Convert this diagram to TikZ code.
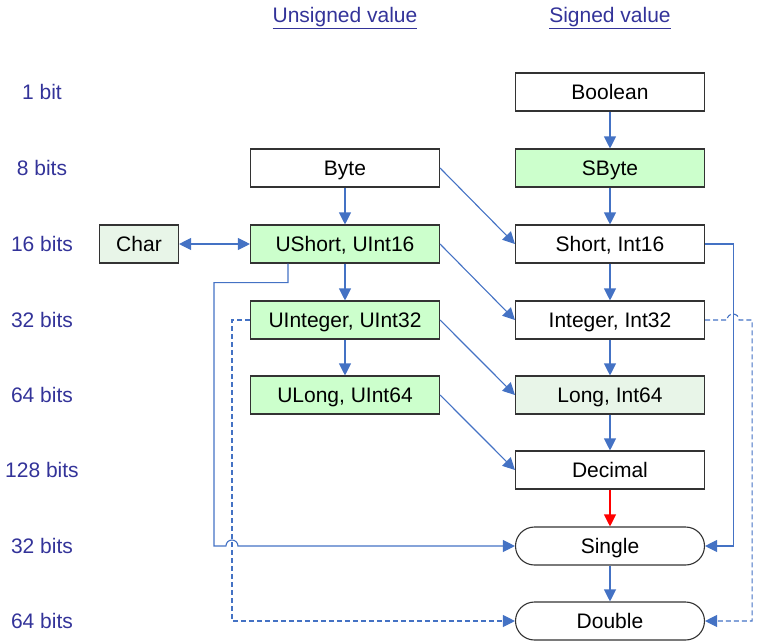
\documentclass[tikz,border=0pt]{standalone}
\usepackage{fontspec}
\setmainfont{Liberation Sans}
\usetikzlibrary{arrows.meta}
\definecolor{linkblue}{HTML}{4472C4}
\definecolor{labelblue}{HTML}{333399}
\definecolor{boxgreen}{HTML}{CCFFCC}
\definecolor{palegreen}{HTML}{E8F5E8}
\begin{document}
\begin{tikzpicture}[x=1pt,y=-1pt,
    font=\fontsize{21}{25}\selectfont,
    type/.style={draw=black!80,line width=1.1pt,minimum width=189pt,minimum height=38pt,inner sep=0pt,
      text height=16pt,text depth=2pt},
    pill/.style={type,rounded corners=19pt},
    size/.style={text=labelblue},
    conn/.style={draw=linkblue,line width=1.1pt,-{Triangle[length=12pt,width=12pt]}},
    weak/.style={conn,dashed,dash pattern=on 5pt off 3pt}]
  \useasboundingbox (0,0) rectangle (761,641);
  \draw
    (345,18) node[size] (uhead){\underline{Unsigned value}}
    (610,18) node[size] (shead){\underline{Signed value}}
    (42,92) node[size] (r1){1 bit}
    (42,168) node[size] (r8){8 bits}
    (42,244) node[size] (r16){16 bits}
    (42,320) node[size] (r32){32 bits}
    (42,395) node[size] (r64){64 bits}
    (42,470) node[size] (r128){128 bits}
    (42,546) node[size] (r32f){32 bits}
    (42,621) node[size] (r64f){64 bits};
  \draw
    (610,92) node[type] (boolean){Boolean}
    (610,168) node[type,fill=boxgreen] (sbyte){SByte}
    (610,244) node[type] (short){Short, Int16}
    (610,320) node[type] (integer){Integer, Int32}
    (610,395) node[type,fill=palegreen] (long){Long, Int64}
    (610,470) node[type] (decimal){Decimal}
    (610,546) node[pill] (single){Single}
    (610,621) node[pill] (double){Double}
    (345,168) node[type] (byte){Byte}
    (345,244) node[type,fill=boxgreen] (ushort){UShort, UInt16}
    (345,320) node[type,fill=boxgreen] (uinteger){UInteger, UInt32}
    (345,395) node[type,fill=boxgreen] (ulong){ULong, UInt64}
    (139,244) node[type,fill=palegreen,minimum width=79pt] (char){Char};
  \begin{scope}[conn]
    \draw (boolean) to (sbyte);
    \draw (sbyte) to (short);
    \draw (short) to (integer);
    \draw (integer) to (long);
    \draw (long) to (decimal);
    \draw[draw=red,-{Triangle[length=12pt,width=12pt,fill=red]}] (decimal) to (single);
    \draw (single) to (double);
    \draw (byte) to (ushort);
    \draw (ushort) to (uinteger);
    \draw (uinteger) to (ulong);
    \draw (byte.east) to (short.west);
    \draw (ushort.east) to (integer.west);
    \draw (uinteger.east) to (long.west);
    \draw (ulong.east) to (decimal.west);
    \draw[{Triangle[length=12pt,width=12pt]}-{Triangle[length=12pt,width=12pt]}] (char) to (ushort);
    \draw ([xshift=38pt]ushort.south west) -- ++(0,19) -- ++(-74,0) coordinate (bend)
      -- (bend |- single.west) -- ++(12,0) arc[start angle=180,end angle=0,radius=6pt] -- (single.west);
    \draw (short.east) -- ++(28,0) |- (single.east);
  \end{scope}
  \begin{scope}[weak]
    \draw (uinteger.west) -- ++(-18,0) |- (double.west);
    \draw (integer.east) -- ++(22,0) arc[start angle=180,end angle=0,radius=6pt]
      -- ++(13,0) |- (double.east);
  \end{scope}
\end{tikzpicture}
\end{document}
